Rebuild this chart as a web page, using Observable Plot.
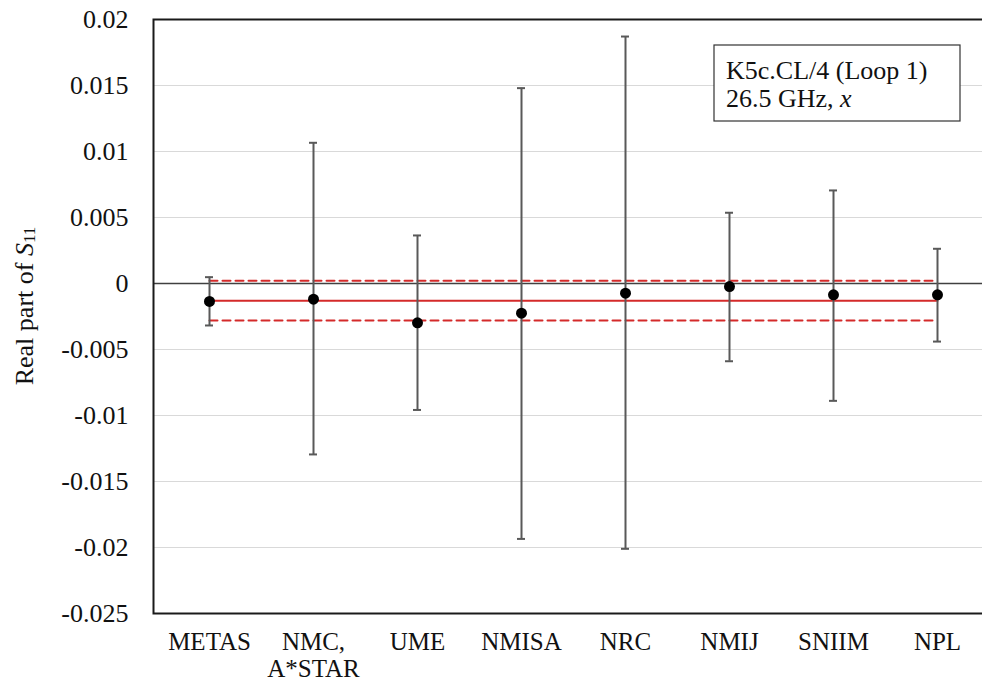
<!DOCTYPE html>
<html><head><meta charset="utf-8">
<script src="https://cdn.jsdelivr.net/npm/d3@7"></script>
<script src="https://cdn.jsdelivr.net/npm/@observablehq/plot@0.6"></script>
<style>body{margin:0;background:#fff} svg text{font-family:"Liberation Serif","Times New Roman","DejaVu Serif",serif !important;}</style>
</head><body><div id="chart"></div>
<script>
const labs = ["METAS", "NMC,\nA*STAR", "UME", "NMISA", "NRC", "NMIJ", "SNIIM", "NPL"];
const values = [-0.00136, -0.00119, -0.00298, -0.00225, -0.00073, -0.00023, -0.00086, -0.00086];
const upper = [0.00048, 0.01066, 0.00364, 0.0148, 0.01871, 0.00536, 0.00705, 0.00263];
const lower = [-0.00318, -0.01295, -0.00958, -0.01935, -0.0201, -0.00589, -0.00889, -0.0044];
const refValue = -0.00131, refUpper = 0.0002, refLower = -0.0028;
const yTicks = [0.02, 0.015, 0.01, 0.005, 0, -0.005, -0.01, -0.015, -0.02, -0.025];
const legendLines = ["K5c.CL/4 (Loop 1)", "26.5 GHz, "];

const serif = "'Liberation Serif','Times New Roman','DejaVu Serif',serif";
const data = labs.map((c, i) => ({c, v: values[i], lo: lower[i], hi: upper[i]}));
const ref = labs.map(c => ({c, m: refValue, u: refUpper, l: refLower}));
const red = "#d42a2a";

const chart = Plot.plot({
  width: 982, height: 681,
  marginLeft: 153, marginTop: 19, marginBottom: 68, marginRight: -10,
  style: {fontFamily: serif, fontSize: "25px", background: "white", color: "#111"},
  x: {type: "band", domain: labs, padding: 0, label: null},
  y: {domain: [-0.025, 0.02], label: null},
  marks: [
    Plot.gridY(yTicks, {stroke: "#d9d9d9", strokeOpacity: 1, strokeWidth: 1}),
    Plot.ruleY([0], {stroke: "#404040", strokeWidth: 1.3}),
    Plot.axisY(yTicks, {tickSize: 0, tickPadding: 25, tickFormat: d => String(d), fontSize: 26, label: null}),
    Plot.axisX({tickSize: 0, tickPadding: 17, fontSize: 25, lineHeight: 1.08, label: null}),
    Plot.line(ref, {x: "c", y: "m", stroke: red, strokeWidth: 2}),
    Plot.line(ref, {x: "c", y: "u", stroke: red, strokeWidth: 2, strokeDasharray: "8,5"}),
    Plot.line(ref, {x: "c", y: "l", stroke: red, strokeWidth: 2, strokeDasharray: "8,5"}),
    Plot.ruleX(data, {x: "c", y1: "lo", y2: "hi", stroke: "#595959", strokeWidth: 2}),
    Plot.tickY(data, {x: "c", y: "hi", insetLeft: 48, insetRight: 48, stroke: "#595959", strokeWidth: 2}),
    Plot.tickY(data, {x: "c", y: "lo", insetLeft: 48, insetRight: 48, stroke: "#595959", strokeWidth: 2}),
    Plot.dot(data, {x: "c", y: "v", r: 5.5, fill: "black", stroke: "none"}),
    Plot.frame({stroke: "#1a1a1a", strokeWidth: 2})
  ]
});
document.getElementById("chart").appendChild(chart);

const svg = d3.select(chart);
const yl = svg.append("text")
  .attr("transform", "translate(33,306) rotate(-90)")
  .attr("text-anchor", "middle")
  .attr("fill", "#111")
  .style("font-size", "26px");
yl.append("tspan").text("Real part of ");
yl.append("tspan").attr("font-style", "italic").text("S");
yl.append("tspan").style("font-size", "17px").attr("dy", "2").text("11");

const lg = svg.append("g").attr("text-anchor", "start");
lg.append("rect").attr("x", 714).attr("y", 45).attr("width", 246).attr("height", 76)
  .attr("fill", "white").attr("stroke", "#333").attr("stroke-width", 1.2);
lg.append("text").attr("x", 726).attr("y", 79).attr("text-anchor", "start").attr("fill", "#111").style("font-size", "26px").text(legendLines[0]);
const l2 = lg.append("text").attr("x", 726).attr("y", 107).attr("text-anchor", "start").attr("fill", "#111").style("font-size", "26px");
l2.append("tspan").text(legendLines[1]);
l2.append("tspan").attr("font-style", "italic").text("x");
</script>
</body></html>
